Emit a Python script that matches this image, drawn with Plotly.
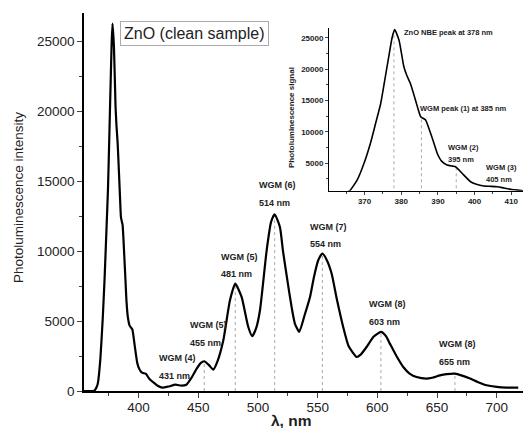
import numpy as np
import plotly.graph_objects as go

# PL spectrum of ZnO (clean sample)
wavelength = [354, 360, 363, 365, 366, 368, 370, 371.6, 373, 374.4, 375.5, 376.6, 377.5, 378.2,
              379.4, 380.7, 381.5, 382.5, 383.5, 384.4, 385.3, 386.6, 388, 389, 389.8, 391, 392.5,
              394, 394.8, 396.6, 398.9, 400.5, 402.5, 404, 406.2, 408, 409.8, 413, 416, 420, 425,
              431, 436, 440, 444, 448.7, 452, 455, 459, 462.6, 466, 471, 476.5, 481, 486.3, 491.9,
              495.2, 498.5, 501.7, 507.3, 511, 514, 518.4, 521, 524.5, 528.2, 531, 534.6, 539,
              543.6, 547, 550.5, 554, 557.5, 561.7, 566, 571.4, 576, 582.7, 586, 591, 597, 603,
              607, 610.5, 616, 621.7, 627, 632.9, 641, 646, 652.4, 658, 665, 671, 677.6, 684,
              691.5, 700, 708.3, 718]
intensity = [0, 0, 20, 300, 600, 2300, 5200, 8150, 11300, 14500, 18200, 22000, 25000, 26300,
             24600, 20400, 19000, 17700, 15800, 14000, 12400, 11900, 9740, 8000, 6550, 5300, 4680,
             4500, 4410, 3360, 2010, 1600, 1330, 1280, 1220, 1000, 800, 576, 380, 240, 320,
             450, 380, 450, 900, 1600, 2000, 2130, 1850, 1530, 2100, 3630, 6470, 7690, 6730, 4580,
             3920, 4500, 5780, 10070, 12100, 12650, 11740, 10000, 8000, 6000, 4800, 4230, 5400,
             6730, 8200, 9360, 9840, 9400, 8410, 6600, 4580, 3200, 2435, 2600, 3150, 3900, 4225,
             3950, 3390, 2500, 1720, 1250, 1000, 890, 950, 1120, 1210, 1245, 1100, 890, 650,
             410, 290, 240, 240]

# whispering gallery mode positions marked on the main plot
wgm_lines = [455, 481, 514, 554, 603, 665]
wgm_titles = ["WGM (4)", "WGM (5)", "WGM (5)", "WGM (6)", "WGM (7)", "WGM (8)", "WGM (8)"]
wgm_nm = ["431 nm", "455 nm", "481 nm", "514 nm", "554 nm", "603 nm", "655 nm"]
wgm_label_x = [415.2, 441.6, 467.3, 499.5, 542.1, 591, 650.2]
wgm_label_y = [2340, 4700, 9590, 14730, 11740, 6210, 3340]
wgm_nm_y = [1070, 3415, 8360, 13440, 10500, 4920, 2080]

# inset peaks
inset_lines = [378, 385.5, 395]
inset_texts = ["ZnO NBE peak at 378 nm", "WGM peak (1) at 385 nm", "WGM (2)", "395 nm", "WGM (3)", "405 nm"]
inset_text_x = [380.3, 384.6, 392.1, 392.1, 402.5, 402.5]
inset_text_y = [25870, 13740, 7500, 5590, 4250, 2400]

FONT = "Arial, Liberation Sans, sans-serif"
W, H = 524, 428
L, R, T, B = 84, 1, 13, 37


def px(x, y):
    # pixel position in the picture -> paper coordinates
    return (x - L) / (W - L - R), (H - B - y) / (H - T - B)


def drop_lines(xs, floor):
    lx, ly = [], []
    for x in xs:
        lx += [x, x, None]
        ly += [floor, float(np.interp(x, wavelength, intensity)), None]
    return lx, ly


fig = go.Figure()

lx, ly = drop_lines(wgm_lines, 0)
fig.add_trace(go.Scatter(x=lx, y=ly, mode="lines",
                         line=dict(color="#aaaaaa", width=1, dash="dot"), showlegend=False))
fig.add_trace(go.Scatter(x=wavelength, y=intensity, mode="lines",
                         line=dict(color="black", width=2.2, shape="spline", smoothing=0.5),
                         showlegend=False))

lx, ly = drop_lines(inset_lines, 0)
fig.add_trace(go.Scatter(x=lx, y=ly, mode="lines", xaxis="x2", yaxis="y2",
                         line=dict(color="#aaaaaa", width=1, dash="dot"), showlegend=False))
fig.add_trace(go.Scatter(x=wavelength, y=intensity, mode="lines", xaxis="x2", yaxis="y2",
                         line=dict(color="black", width=1.6, shape="spline", smoothing=0.5),
                         showlegend=False))

for i in range(len(wgm_titles)):
    fig.add_annotation(x=wgm_label_x[i], y=wgm_label_y[i], text="<b>%s</b>" % wgm_titles[i],
                       showarrow=False, xanchor="left", yanchor="middle",
                       font=dict(size=9, color="#222"))
    fig.add_annotation(x=wgm_label_x[i], y=wgm_nm_y[i], text="<b>%s</b>" % wgm_nm[i],
                       showarrow=False, xanchor="left", yanchor="middle",
                       font=dict(size=9, color="#222"))

for i in range(len(inset_texts)):
    fig.add_annotation(x=inset_text_x[i], y=inset_text_y[i], xref="x2", yref="y2",
                       text="<b>%s</b>" % inset_texts[i], showarrow=False, xanchor="left",
                       yanchor="middle", font=dict(size=7.5, color="#222"))

bx, by = px(120, 33)
fig.add_annotation(x=bx, y=by, xref="paper", yref="paper",
                   text="ZnO (clean sample)", showarrow=False, xanchor="left", yanchor="middle",
                   font=dict(size=16, color="#222"), bordercolor="#aaaaaa", borderwidth=1,
                   borderpad=3, bgcolor="white")

# axis titles placed by hand
tx, ty = px(18, 198)
fig.add_annotation(x=tx, y=ty, xref="paper", yref="paper", text="Photoluminescence intensity",
                   textangle=-90, showarrow=False, xanchor="center", yanchor="middle",
                   font=dict(size=13.5, color="#222"))
tx, ty = px(291, 420)
fig.add_annotation(x=tx, y=ty, xref="paper", yref="paper", text="<b>λ, nm</b>",
                   showarrow=False, xanchor="center", yanchor="middle",
                   font=dict(size=15.5, color="#222"))
tx, ty = px(291, 118)
fig.add_annotation(x=tx, y=ty, xref="paper", yref="paper", text="<b>Photoluminescence signal</b>",
                   textangle=-90, showarrow=False, xanchor="center", yanchor="middle",
                   font=dict(size=8, color="#222"))

fig.update_layout(
    width=W, height=H,
    margin=dict(l=L, r=R, t=T, b=B),
    paper_bgcolor="white", plot_bgcolor="white",
    font=dict(family=FONT, color="#222"),
    xaxis=dict(range=[354.3, 722], tickvals=[400, 450, 500, 550, 600, 650, 700],
               ticks="outside", ticklen=5, tickwidth=1, showgrid=False, zeroline=False,
               showline=True, linecolor="black", linewidth=1.5, automargin=False,
               ticklabelstandoff=-2,
               minor=dict(dtick=25, tick0=0, ticks="outside", ticklen=3, showgrid=False),
               tickfont=dict(size=13.5)),
    yaxis=dict(range=[0, 27050], tickvals=[0, 5000, 10000, 15000, 20000, 25000],
               tickformat="d", ticks="outside", ticklen=5, tickwidth=1, showgrid=False,
               zeroline=False, showline=True, linecolor="black", linewidth=1.5, automargin=False,
               minor=dict(dtick=2500, tick0=0, ticks="outside", ticklen=3, showgrid=False),
               tickfont=dict(size=13.5)),
    xaxis2=dict(domain=[px(329, 0)[0], 1.0], anchor="y2", range=[360.3, 413.2],
                tickvals=[360, 370, 380, 390, 400, 410], ticks="outside", ticklen=3,
                showgrid=False, zeroline=False, showline=True, linecolor="black", linewidth=1,
                automargin=False,
                minor=dict(dtick=5, tick0=0, ticks="outside", ticklen=2, showgrid=False),
                tickfont=dict(size=8, weight="bold")),
    yaxis2=dict(domain=[px(0, 190.7)[1], px(0, 28.3)[1]], anchor="x2",
                range=[576, 26510], tickvals=[5000, 10000, 15000, 20000, 25000],
                tickformat="d", ticks="outside", ticklen=3, showgrid=False, zeroline=False,
                showline=True, linecolor="black", linewidth=1, automargin=False,
                minor=dict(dtick=2500, tick0=0, ticks="outside", ticklen=2, showgrid=False),
                tickfont=dict(size=8, weight="bold")),
)

# the page's default body margin would shift the chart by 8px
fig.write_html("out.html", config={"displayModeBar": False},
               post_script="document.body.style.margin='0';")
